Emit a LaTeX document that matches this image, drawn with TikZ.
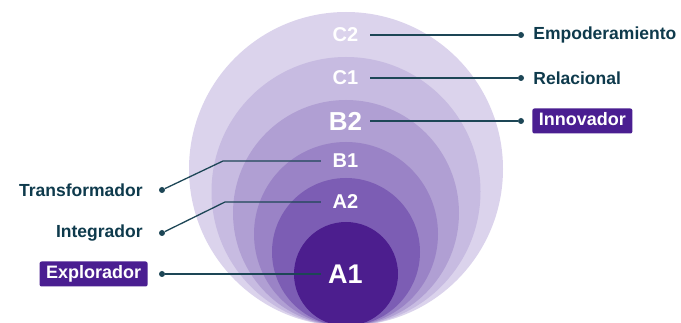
\documentclass[tikz,border=0pt]{standalone}
\usepackage{fontspec}
\setmainfont{Liberation Sans}
\usetikzlibrary{positioning}

\definecolor{ringCtwo}{RGB}{219,211,236}
\definecolor{ringCone}{RGB}{199,187,225}
\definecolor{ringBtwo}{RGB}{176,159,211}
\definecolor{ringBone}{RGB}{154,131,198}
\definecolor{ringAtwo}{RGB}{124,93,180}
\definecolor{ringAone}{RGB}{76,30,142}
\definecolor{ink}{RGB}{14,58,76}
\definecolor{wirecol}{RGB}{29,70,86}
\definecolor{deep}{RGB}{74,30,145}

\begin{document}
\begin{tikzpicture}[x=1pt,y=-1pt,
  level/.style={text=white,font=\bfseries\fontsize{20}{20}\selectfont,minimum width=49pt,inner sep=2pt},
  tag/.style={text=ink,font=\bfseries\fontsize{17.5}{18}\selectfont,inner sep=0pt},
  badge/.style={fill=deep,text=white,font=\bfseries\fontsize{18}{18}\selectfont,rounded corners=2pt,
    inner xsep=6.5pt,inner ysep=4pt,text height=13pt,text depth=4pt},
  dot/.style={circle,fill=wirecol,inner sep=0pt,minimum size=6pt},
  wire/.style={draw=wirecol,line width=1.3pt}]
\useasboundingbox (0,0) rectangle (681,323);

% Rings
\begin{scope}
\clip (0,0) rectangle (681,323);
\foreach \r/\c in {157/ringCtwo,134.5/ringCone,113/ringBtwo,92/ringBone,74/ringAtwo,52/ringAone}
  \fill[\c] (346,{326-\r}) circle[radius=\r pt];
\end{scope}

% Level labels
\node[level] (C2) at (345.5,35) {C2};
\node[level] (C1) at (345.5,78) {C1};
\node[level,font=\bfseries\fontsize{26}{26}\selectfont] (B2) at (345.5,121) {B2};
\node[level] (B1) at (345.5,161) {B1};
\node[level] (A2) at (345.5,202) {A2};
\node[level,font=\bfseries\fontsize{27}{27}\selectfont] (A1) at (345.5,274) {A1};

% Right side
\node[dot] (dC2) at (521,35) {};
\node[dot] (dC1) at (521,78) {};
\node[dot] (dB2) at (521,121) {};
\node[tag,right=9pt of dC2] (emp) {Empoderamiento};
\node[tag,right=9pt of dC1] (rel) {Relacional};
\node[badge,right=8pt of dB2] (inno) {Innovador};
\draw[wire] (C2.east) -- (dC2);
\draw[wire] (C1.east) -- (dC1);
\draw[wire] (B2.east) -- (dB2);

% Left side
\node[dot] (dB1) at (162,190) {};
\node[dot] (dA2) at (162,233) {};
\node[dot] (dA1) at (162,274) {};
\coordinate (kB1) at (223,161);
\coordinate (kA2) at (225,202);
\node[tag,left=16pt of dB1] (trans) {Transformador};
\node[tag,left=16pt of dA2] (integ) {Integrador};
\node[badge,left=11pt of dA1] (expl) {Explorador};
\draw[wire] (B1.west) -- (kB1) -- (dB1);
\draw[wire] (A2.west) -- (kA2) -- (dA2);
\draw[wire] (A1.west) -- (dA1);
\end{tikzpicture}
\end{document}
